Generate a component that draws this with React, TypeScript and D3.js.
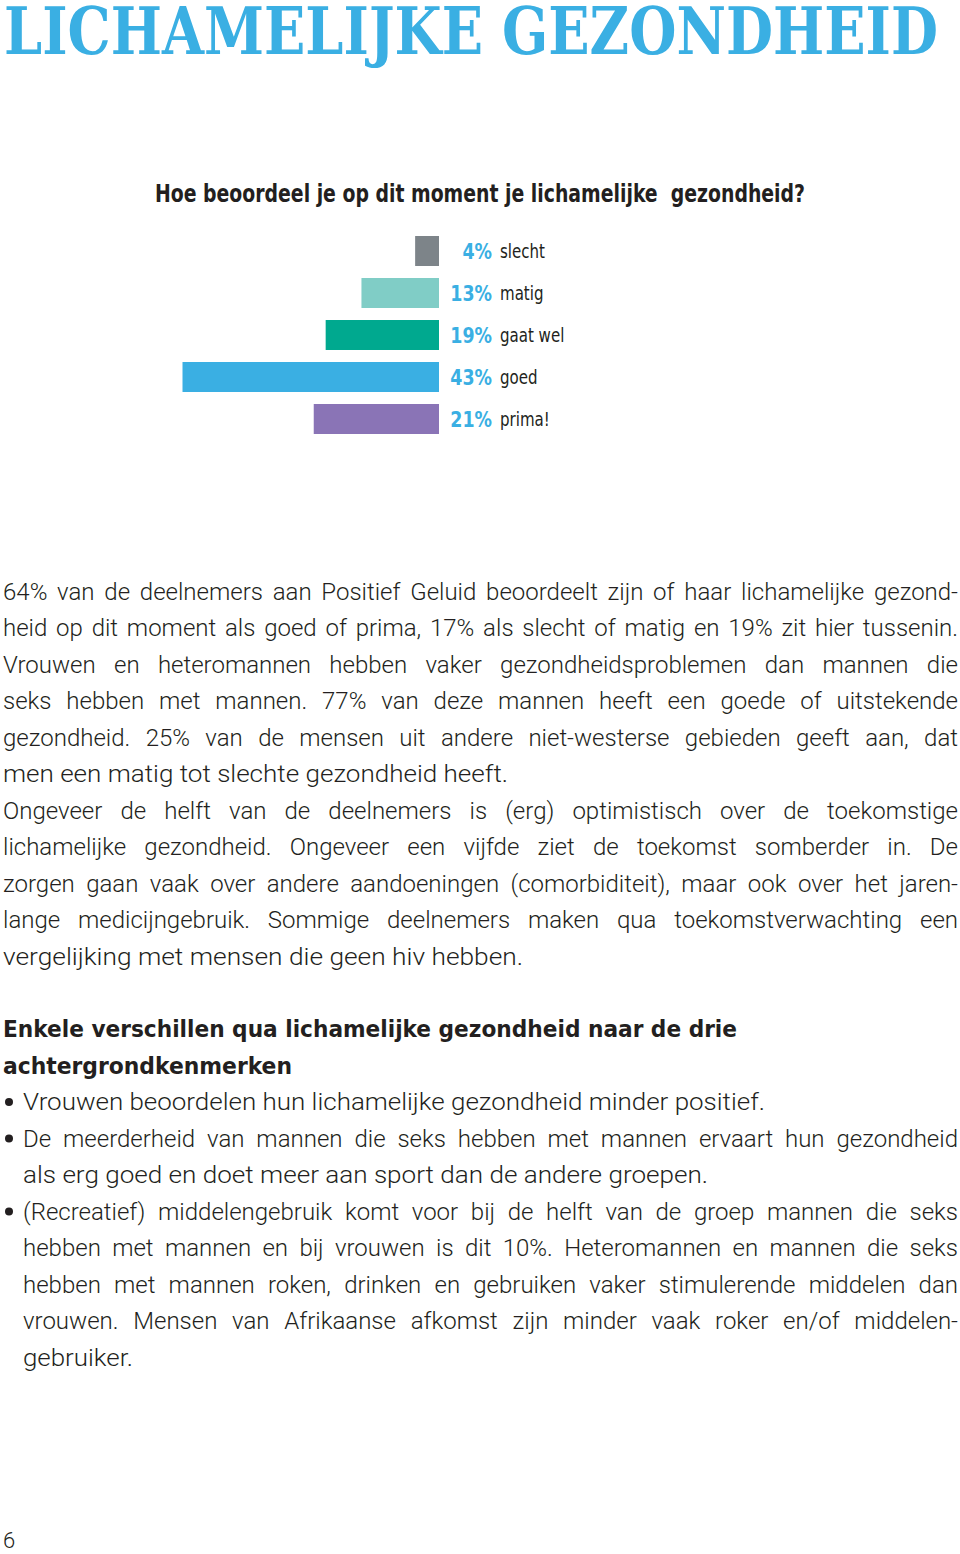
import React, { useEffect, useRef } from "react";
import * as d3 from "d3";

const categories = ["slecht", "matig", "gaat wel", "goed", "prima!"];
const values = [4, 13, 19, 43, 21];
const barColors = ["#7d8489", "#80cdc6", "#00a98f", "#3aafe3", "#8a74b6"];

const titleText = "LICHAMELIJKE GEZONDHEID";
const questionText = "Hoe beoordeel je op dit moment je lichamelijke  gezondheid?";

// [text, target width, justified]
const bodyLines: [string, number, boolean][] = [
  ["64% van de deelnemers aan Positief Geluid beoordeelt zijn of haar lichamelijke gezond-", 955, true],
  ["heid op dit moment als goed of prima, 17% als slecht of matig en 19% zit hier tussenin.", 955, true],
  ["Vrouwen en heteromannen hebben vaker gezondheidsproblemen dan mannen die", 955, true],
  ["seks hebben met mannen. 77% van deze mannen heeft een goede of uitstekende", 955, true],
  ["gezondheid. 25% van de mensen uit andere niet-westerse gebieden geeft aan, dat", 955, true],
  ["men een matig tot slechte gezondheid heeft.", 505, false],
  ["Ongeveer de helft van de deelnemers is (erg) optimistisch over de toekomstige", 955, true],
  ["lichamelijke gezondheid. Ongeveer een vijfde ziet de toekomst somberder in. De", 955, true],
  ["zorgen gaan vaak over andere aandoeningen (comorbiditeit), maar ook over het jaren-", 955, true],
  ["lange medicijngebruik. Sommige deelnemers maken qua toekomstverwachting een", 955, true],
  ["vergelijking met mensen die geen hiv hebben.", 520, false],
];

const subheadLines = [
  "Enkele verschillen qua lichamelijke gezondheid naar de drie",
  "achtergrondkenmerken",
];
const subheadWidths = [734, 289];

// [text, target width, justified, bullet]
const bulletLines: [string, number, boolean, boolean][] = [
  ["Vrouwen beoordelen hun lichamelijke gezondheid minder positief.", 742, false, true],
  ["De meerderheid van mannen die seks hebben met mannen ervaart hun gezondheid", 935, true, true],
  ["als erg goed en doet meer aan sport dan de andere groepen.", 685, false, false],
  ["(Recreatief) middelengebruik komt voor bij de helft van de groep mannen die seks", 935, true, true],
  ["hebben met mannen en bij vrouwen is dit 10%. Heteromannen en mannen die seks", 935, true, false],
  ["hebben met mannen roken, drinken en gebruiken vaker stimulerende middelen dan", 935, true, false],
  ["vrouwen. Mensen van Afrikaanse afkomst zijn minder vaak roker en/of middelen-", 935, true, false],
  ["gebruiker.", 110, false, false],
];

const pageNumber = "6";

const BODY_FONT = "Roboto, 'Liberation Sans', sans-serif";
const COND_FONT = "'Liberation Sans Narrow', 'DejaVu Sans Condensed', 'Liberation Sans', sans-serif";
const TEXT_COLOR = "#231f20";
const BLUE = "#3aafe3";

export default function App() {
  const svgRef = useRef<SVGSVGElement | null>(null);

  useEffect(() => {
    const svg = svgRef.current;
    if (!svg) return;
    svg.querySelectorAll<SVGTextElement>("text[data-target]").forEach((el) => {
      const target = Number(el.getAttribute("data-target"));
      const justify = el.getAttribute("data-justify") === "1";
      el.removeAttribute("word-spacing");
      el.removeAttribute("textLength");
      const natural = el.getComputedTextLength();
      const text = el.textContent || "";
      const spaces = (text.match(/ /g) || []).length;
      if (justify && natural <= target && spaces > 0) {
        el.setAttribute("word-spacing", String((target - natural) / spaces));
      } else {
        el.setAttribute("textLength", String(target));
        el.setAttribute("lengthAdjust", "spacingAndGlyphs");
      }
    });
  }, []);

  const barRight = 439;
  const x = d3.scaleLinear().domain([0, 43]).range([0, 256.5]);
  const y = d3.scaleBand<string>().domain(categories).range([230, 440]).paddingInner(0.286).paddingOuter(0.143);

  const bodyTop = 599.5;
  const lineH = 36.5;

  return (
    <svg
      ref={svgRef}
      width={960}
      height={1554}
      viewBox="0 0 960 1554"
      style={{ position: "absolute", left: 0, top: 0, background: "#fff" }}
    >
      <text
        x={4}
        y={54}
        fontFamily="'DejaVu Serif', serif"
        fontWeight="bold"
        fontSize={65}
        fill={BLUE}
        textLength={934}
        lengthAdjust="spacingAndGlyphs"
      >
        {titleText}
      </text>

      <text
        x={155}
        y={202}
        fontFamily={COND_FONT}
        fontWeight="bold"
        fontSize={24}
        fill={TEXT_COLOR}
        textLength={650}
        lengthAdjust="spacingAndGlyphs"
        style={{ whiteSpace: "pre" }}
      >
        {questionText}
      </text>

      {categories.map((c, i) => {
        const y0 = y(c) as number;
        const bh = y.bandwidth();
        const w = x(values[i]);
        return (
          <g key={c}>
            <rect x={barRight - w} y={y0} width={w} height={bh} fill={barColors[i]} />
            <text
              transform={`translate(492,${y0 + bh / 2 + 8}) scale(0.88,1)`}
              textAnchor="end"
              fontFamily={COND_FONT}
              fontWeight="bold"
              fontSize={22}
              fill={BLUE}
            >
              {values[i]}%
            </text>
            <text
              transform={`translate(500,${y0 + bh / 2 + 7}) scale(0.88,1)`}
              fontFamily={COND_FONT}
              fontSize={19}
              fill={TEXT_COLOR}
            >
              {c}
            </text>
          </g>
        );
      })}

      {bodyLines.map(([t, w, j], i) => (
        <text
          key={"b" + i}
          x={3}
          y={bodyTop + i * lineH}
          fontFamily={BODY_FONT}
          fontWeight={300}
          fontSize={24}
          fill={TEXT_COLOR}
          data-target={w}
          data-justify={j ? "1" : "0"}
        >
          {t}
        </text>
      ))}

      {subheadLines.map((t, i) => (
        <text
          key={"s" + i}
          x={3}
          y={1037 + i * lineH}
          fontFamily={COND_FONT}
          fontWeight="bold"
          fontSize={23}
          fill={TEXT_COLOR}
          textLength={subheadWidths[i]}
          lengthAdjust="spacingAndGlyphs"
        >
          {t}
        </text>
      ))}

      {bulletLines.map(([t, w, j, b], i) => (
        <g key={"l" + i}>
          {b && <circle cx={9} cy={1110 + i * lineH - 8} r={4} fill={TEXT_COLOR} />}
          <text
            x={23}
            y={1110 + i * lineH}
            fontFamily={BODY_FONT}
            fontWeight={300}
            fontSize={24}
            fill={TEXT_COLOR}
            data-target={w}
            data-justify={j ? "1" : "0"}
          >
            {t}
          </text>
        </g>
      ))}

      <text x={3} y={1548} fontFamily={BODY_FONT} fontWeight={300} fontSize={22} fill={TEXT_COLOR}>
        {pageNumber}
      </text>
    </svg>
  );
}
